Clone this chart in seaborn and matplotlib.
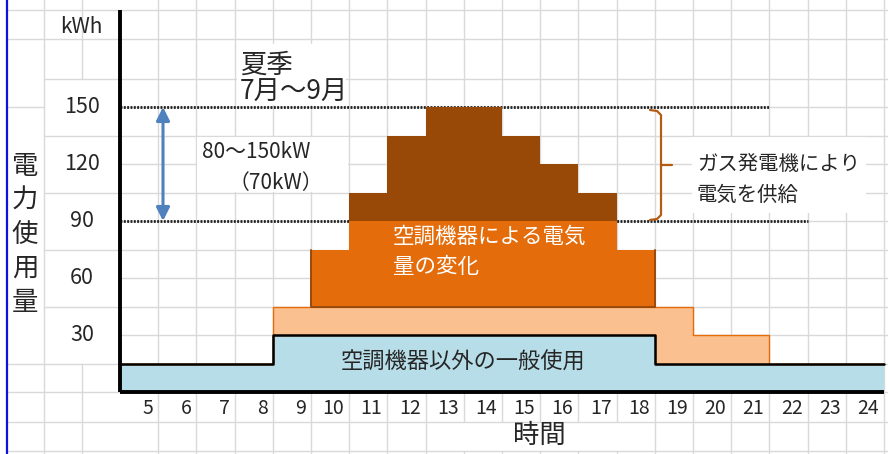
import numpy as np
import matplotlib
matplotlib.use("Agg")
import matplotlib.pyplot as plt
import seaborn as sns
from matplotlib.patches import Rectangle

# ---------------- data ----------------
hours = [5, 6, 7, 8, 9, 10, 11, 12, 13, 14, 15, 16, 17, 18, 19, 20, 21, 22, 23, 24]
base_load = [15, 15, 15, 15, 30, 30, 30, 30, 30, 30, 30, 30, 30, 30, 15, 15, 15, 15, 15, 15]
ac_fixed = [0, 0, 0, 0, 15, 15, 15, 15, 15, 15, 15, 15, 15, 15, 30, 15, 15, 0, 0, 0]
ac_var = [0, 0, 0, 0, 0, 30, 45, 45, 45, 45, 45, 45, 45, 30, 0, 0, 0, 0, 0, 0]
gas_gen = [0, 0, 0, 0, 0, 0, 15, 45, 60, 60, 45, 30, 15, 0, 0, 0, 0, 0, 0, 0]
y_ticks = [30, 60, 90, 120, 150]
ref_levels = [150, 90]
ref_ends = [21, 22]

# ---------------- style ----------------
sns.set_theme(style="white")
plt.rcParams["font.family"] = ["Noto Sans CJK JP", "DejaVu Sans"]

W, H = 888, 454
fig = plt.figure(figsize=(W / 100, H / 100), dpi=100)
ax = fig.add_axes([0, 0, 1, 1])
ax.axis("off")


def px2x(px):
    return 4 + (px - 120) / 38.2


def py2v(py):
    return (392 - py) / 1.9


GRID = "#D9D9D9"
glw = 1.0

# ---- spreadsheet grid ----
top_rows = [py2v(10), py2v(39), py2v(79)]
bot_rows = [py2v(422), py2v(451)]
main_rows = list(range(0, 151, 15))
for v in [py2v(10), py2v(39), 150, 15, 0] + bot_rows:
    ax.plot([1.04, 2], [v, v], color=GRID, lw=glw, zorder=1)
for v in top_rows + [135, 105, 75, 45, 15, 0] + bot_rows:
    ax.plot([2, 4], [v, v], color=GRID, lw=glw, zorder=1)
for v in top_rows + main_rows + bot_rows:
    ax.plot([4, 24.2], [v, v], color=GRID, lw=glw, zorder=1)
ytop, ybot = py2v(0), py2v(454)
ax.plot([2, 2], [ybot, ytop], color=GRID, lw=glw, zorder=1)
ax.plot([3, 3], [py2v(79), ytop], color=GRID, lw=glw, zorder=1)
ax.plot([3, 3], [ybot, 15], color=GRID, lw=glw, zorder=1)
for xv in range(5, 25):
    if 12 < xv < 18:
        ax.plot([xv, xv], [py2v(422), ytop], color=GRID, lw=glw, zorder=1)
        ax.plot([xv, xv], [ybot, py2v(451)], color=GRID, lw=glw, zorder=1)
    else:
        ax.plot([xv, xv], [ybot, ytop], color=GRID, lw=glw, zorder=1)

# blue left border
ax.plot([1.04, 1.04], [ybot, ytop], color="#1010E0", lw=1.6, zorder=2)

# white text boxes hiding grid
for (x0, y0, x1, y1) in [(237, 44, 346, 105), (197, 137, 348, 192), (692, 137, 866, 213)]:
    ax.add_patch(Rectangle((px2x(x0), py2v(y1)), px2x(x1) - px2x(x0), py2v(y0) - py2v(y1),
                           facecolor="white", edgecolor="none", zorder=1.5))

# ---- reference dashed lines ----
for lvl, xe in zip(ref_levels, ref_ends):
    ax.plot([4, xe], [lvl, lvl], color="#202020", lw=2.0, linestyle=(0, (0.7, 0.5)), zorder=2)

# ---- stacked step layers ----
edges = np.array([h - 1 for h in hours] + [hours[-1]], dtype=float)


def ext(a):
    a = np.asarray(a, dtype=float)
    return np.append(a, a[-1])


b = np.array(base_load, float)
l1 = b + np.array(ac_fixed, float)
l2 = l1 + np.array(ac_var, float)
l3 = l2 + np.array(gas_gen, float)

ax.fill_between(edges, 0, ext(b), step="post", color="#B7DEE8", lw=0, zorder=3)
ax.fill_between(edges, ext(b), ext(l1), step="post", facecolor="#FAC090",
                edgecolor="#E46C0A", lw=1.0, zorder=3.1)
ax.fill_between(edges, ext(l1), ext(l2), step="post", color="#E46C0A", lw=0, zorder=3.2)
ax.fill_between(edges, ext(l2), ext(l3), step="post", color="#984807", lw=0, zorder=3.3)

# outline of AC-variable block (left, bottom, right)
nz = [i for i, v in enumerate(ac_var) if v > 0]
i0, i1 = nz[0], nz[-1]
ox = [edges[i0], edges[i0], edges[i1 + 1], edges[i1 + 1]]
oy = [l1[i0] + ac_var[i0], l1[i0], l1[i1], l1[i1] + ac_var[i1]]
ax.plot(ox, oy, color="#9A4A0A", lw=1.4, zorder=3.4)

# base-load outline
sns.lineplot(x=edges, y=ext(b), drawstyle="steps-post", color="black", lw=1.8, ax=ax, zorder=4)

# ---- axes lines ----
ax.plot([4, 4], [0, py2v(10)], color="black", lw=2.8, solid_capstyle="butt", zorder=5)
ax.plot([4, 24], [0, 0], color="black", lw=2.8, solid_capstyle="butt", zorder=5)

# ---- tick labels ----
for h in hours:
    ax.text(h - 0.13, py2v(408), str(h), ha="right", va="center", fontsize=14, zorder=6)
for v in y_ticks:
    ax.text(3.0, v, str(v), ha="center", va="center", fontsize=15.5, zorder=6)
ax.text(3.0, py2v(27), "kWh", ha="center", va="center", fontsize=15, zorder=6)

# vertical y label
for i, ch in enumerate("電力使用量"):
    ax.text(px2x(25), py2v(166 + 34 * i), ch, ha="center", va="center", fontsize=19, zorder=6)
ax.text(px2x(539), py2v(435), "時間", ha="center", va="center", fontsize=19, zorder=6)

# ---- annotations ----
ax.text(px2x(240), py2v(65), "夏季", ha="left", va="center", fontsize=19, zorder=6)
ax.text(px2x(240), py2v(92), "7月～9月", ha="left", va="center", fontsize=19, zorder=6)
ax.text(px2x(202), py2v(152), "80～150kW", ha="left", va="center", fontsize=15, zorder=6)
ax.text(px2x(276), py2v(183), "（70kW）", ha="center", va="center", fontsize=15, zorder=6)
ax.text(px2x(697), py2v(165), "ガス発電機により", ha="left", va="center", fontsize=14.7, zorder=6)
ax.text(px2x(697), py2v(195), "電気を供給", ha="left", va="center", fontsize=14.7, zorder=6)
ax.text(px2x(393), py2v(237), "空調機器による電気", ha="left", va="center", fontsize=15.5,
        color="white", zorder=6)
ax.text(px2x(393), py2v(267), "量の変化", ha="left", va="center", fontsize=15.5,
        color="white", zorder=6)
ax.text(px2x(463), py2v(362), "空調機器以外の一般使用", ha="center", va="center", fontsize=16,
        zorder=6)

# double arrow
ax.annotate("", xy=(px2x(163), ref_levels[0]), xytext=(px2x(163), ref_levels[1]),
            arrowprops=dict(arrowstyle="<|-|>", color="#4F81BD", lw=2.2, mutation_scale=20,
                            shrinkA=0, shrinkB=0), zorder=6)

# brace
bpx = [650, 657, 661, 661, 661, 661, 657, 650]
bpy = [110, 111, 115, 165, 165, 215, 219, 220]
ax.plot([px2x(p) for p in bpx], [py2v(p) for p in bpy], color="#B35C12", lw=1.6, zorder=6)
ax.plot([px2x(661), px2x(672)], [py2v(165), py2v(165)], color="#B35C12", lw=1.6, zorder=6)

ax.set_xlim(px2x(0), px2x(W))
ax.set_ylim(py2v(H), py2v(0))
ax.set_xlabel("")
ax.set_ylabel("")

fig.savefig("out.png", dpi=100)
